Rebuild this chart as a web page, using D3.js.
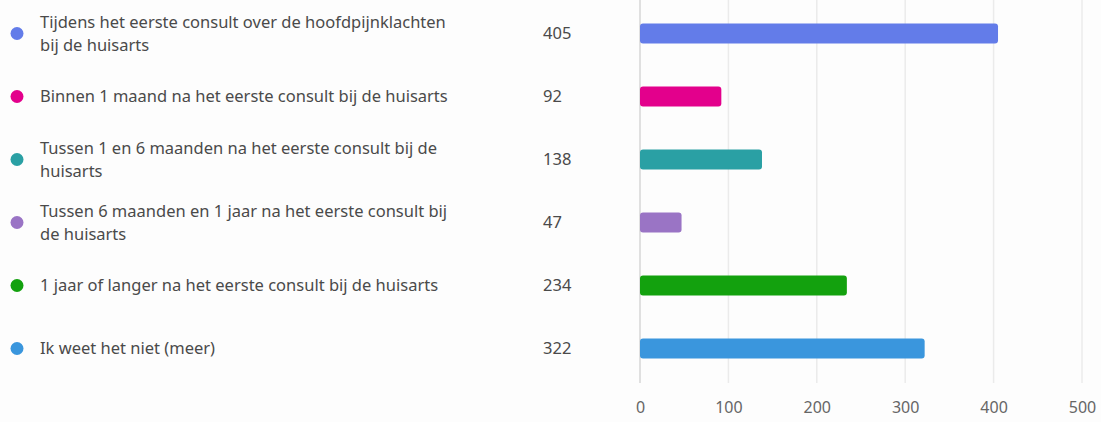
<!DOCTYPE html>
<html><head><meta charset="utf-8">
<script src="https://cdn.jsdelivr.net/npm/d3@7"></script>
<style>body{margin:0;background:#fdfdfd;}svg{display:block;}text{font-family:"Segoe UI","Noto Sans",sans-serif;}</style>
</head><body>
<script>
const categories = [
  ["Tijdens het eerste consult over de hoofdpijnklachten","bij de huisarts"],
  ["Binnen 1 maand na het eerste consult bij de huisarts"],
  ["Tussen 1 en 6 maanden na het eerste consult bij de","huisarts"],
  ["Tussen 6 maanden en 1 jaar na het eerste consult bij","de huisarts"],
  ["1 jaar of langer na het eerste consult bij de huisarts"],
  ["Ik weet het niet (meer)"]
];
const values = [405, 92, 138, 47, 234, 322];
const colors = ["#637ce9","#e3008c","#2aa0a4","#9a74c5","#13a10e","#3a96dd"];
const ticks = [0,100,200,300,400,500];

const W = 1101, H = 422;
const svg = d3.select("body").append("svg").attr("width", W).attr("height", H);
const x = d3.scaleLinear().domain([0,500]).range([640,1082]);
const y = d3.scaleBand().domain(d3.range(values.length)).range([2,380]).padding(0);

svg.append("g").selectAll("line").data(ticks).join("line")
  .attr("x1", d=>x(d)).attr("x2", d=>x(d)).attr("y1", 0).attr("y2", 383)
  .attr("stroke", (d,i)=> i===0 ? "#d6d6d6" : "#ebebeb").attr("stroke-width", 1.5);

const ax = svg.append("g").attr("transform","translate(0,383)")
  .call(d3.axisBottom(x).tickValues(ticks).tickSize(0).tickPadding(19));
ax.select(".domain").remove();
ax.selectAll("text").attr("font-size", 16).attr("fill", "#666")
  .style("font-family", '"Segoe UI","Noto Sans",sans-serif');

svg.append("g").selectAll("rect").data(values).join("rect")
  .attr("x", x(0)).attr("y", (d,i)=> y(i)+y.bandwidth()/2-10)
  .attr("width", d=> x(d)-x(0)).attr("height", 20).attr("rx", 3)
  .attr("fill", (d,i)=>colors[i]);

svg.append("g").selectAll("circle").data(values).join("circle")
  .attr("cx", 17).attr("cy", (d,i)=> y(i)+y.bandwidth()/2)
  .attr("r", 6.5).attr("fill", (d,i)=>colors[i]);

const lg = svg.append("g");
categories.forEach((lines,i)=>{
  const cy = y(i)+y.bandwidth()/2;
  const lh = 23;
  const t = lg.append("text").attr("x", 40).attr("font-size", 16.5).attr("fill","#4a4a4a");
  lines.forEach((l,j)=>{
    t.append("tspan").attr("x",40)
      .attr("y", cy + (j-(lines.length-1)/2)*lh).attr("dy","0.35em").text(l);
  });
});

svg.append("g").selectAll("text").data(values).join("text")
  .attr("x", 543).attr("y", (d,i)=> y(i)+y.bandwidth()/2).attr("dy","0.35em")
  .attr("font-size", 16.5).attr("fill","#4a4a4a").text(d=>d);
</script>
</body></html>
